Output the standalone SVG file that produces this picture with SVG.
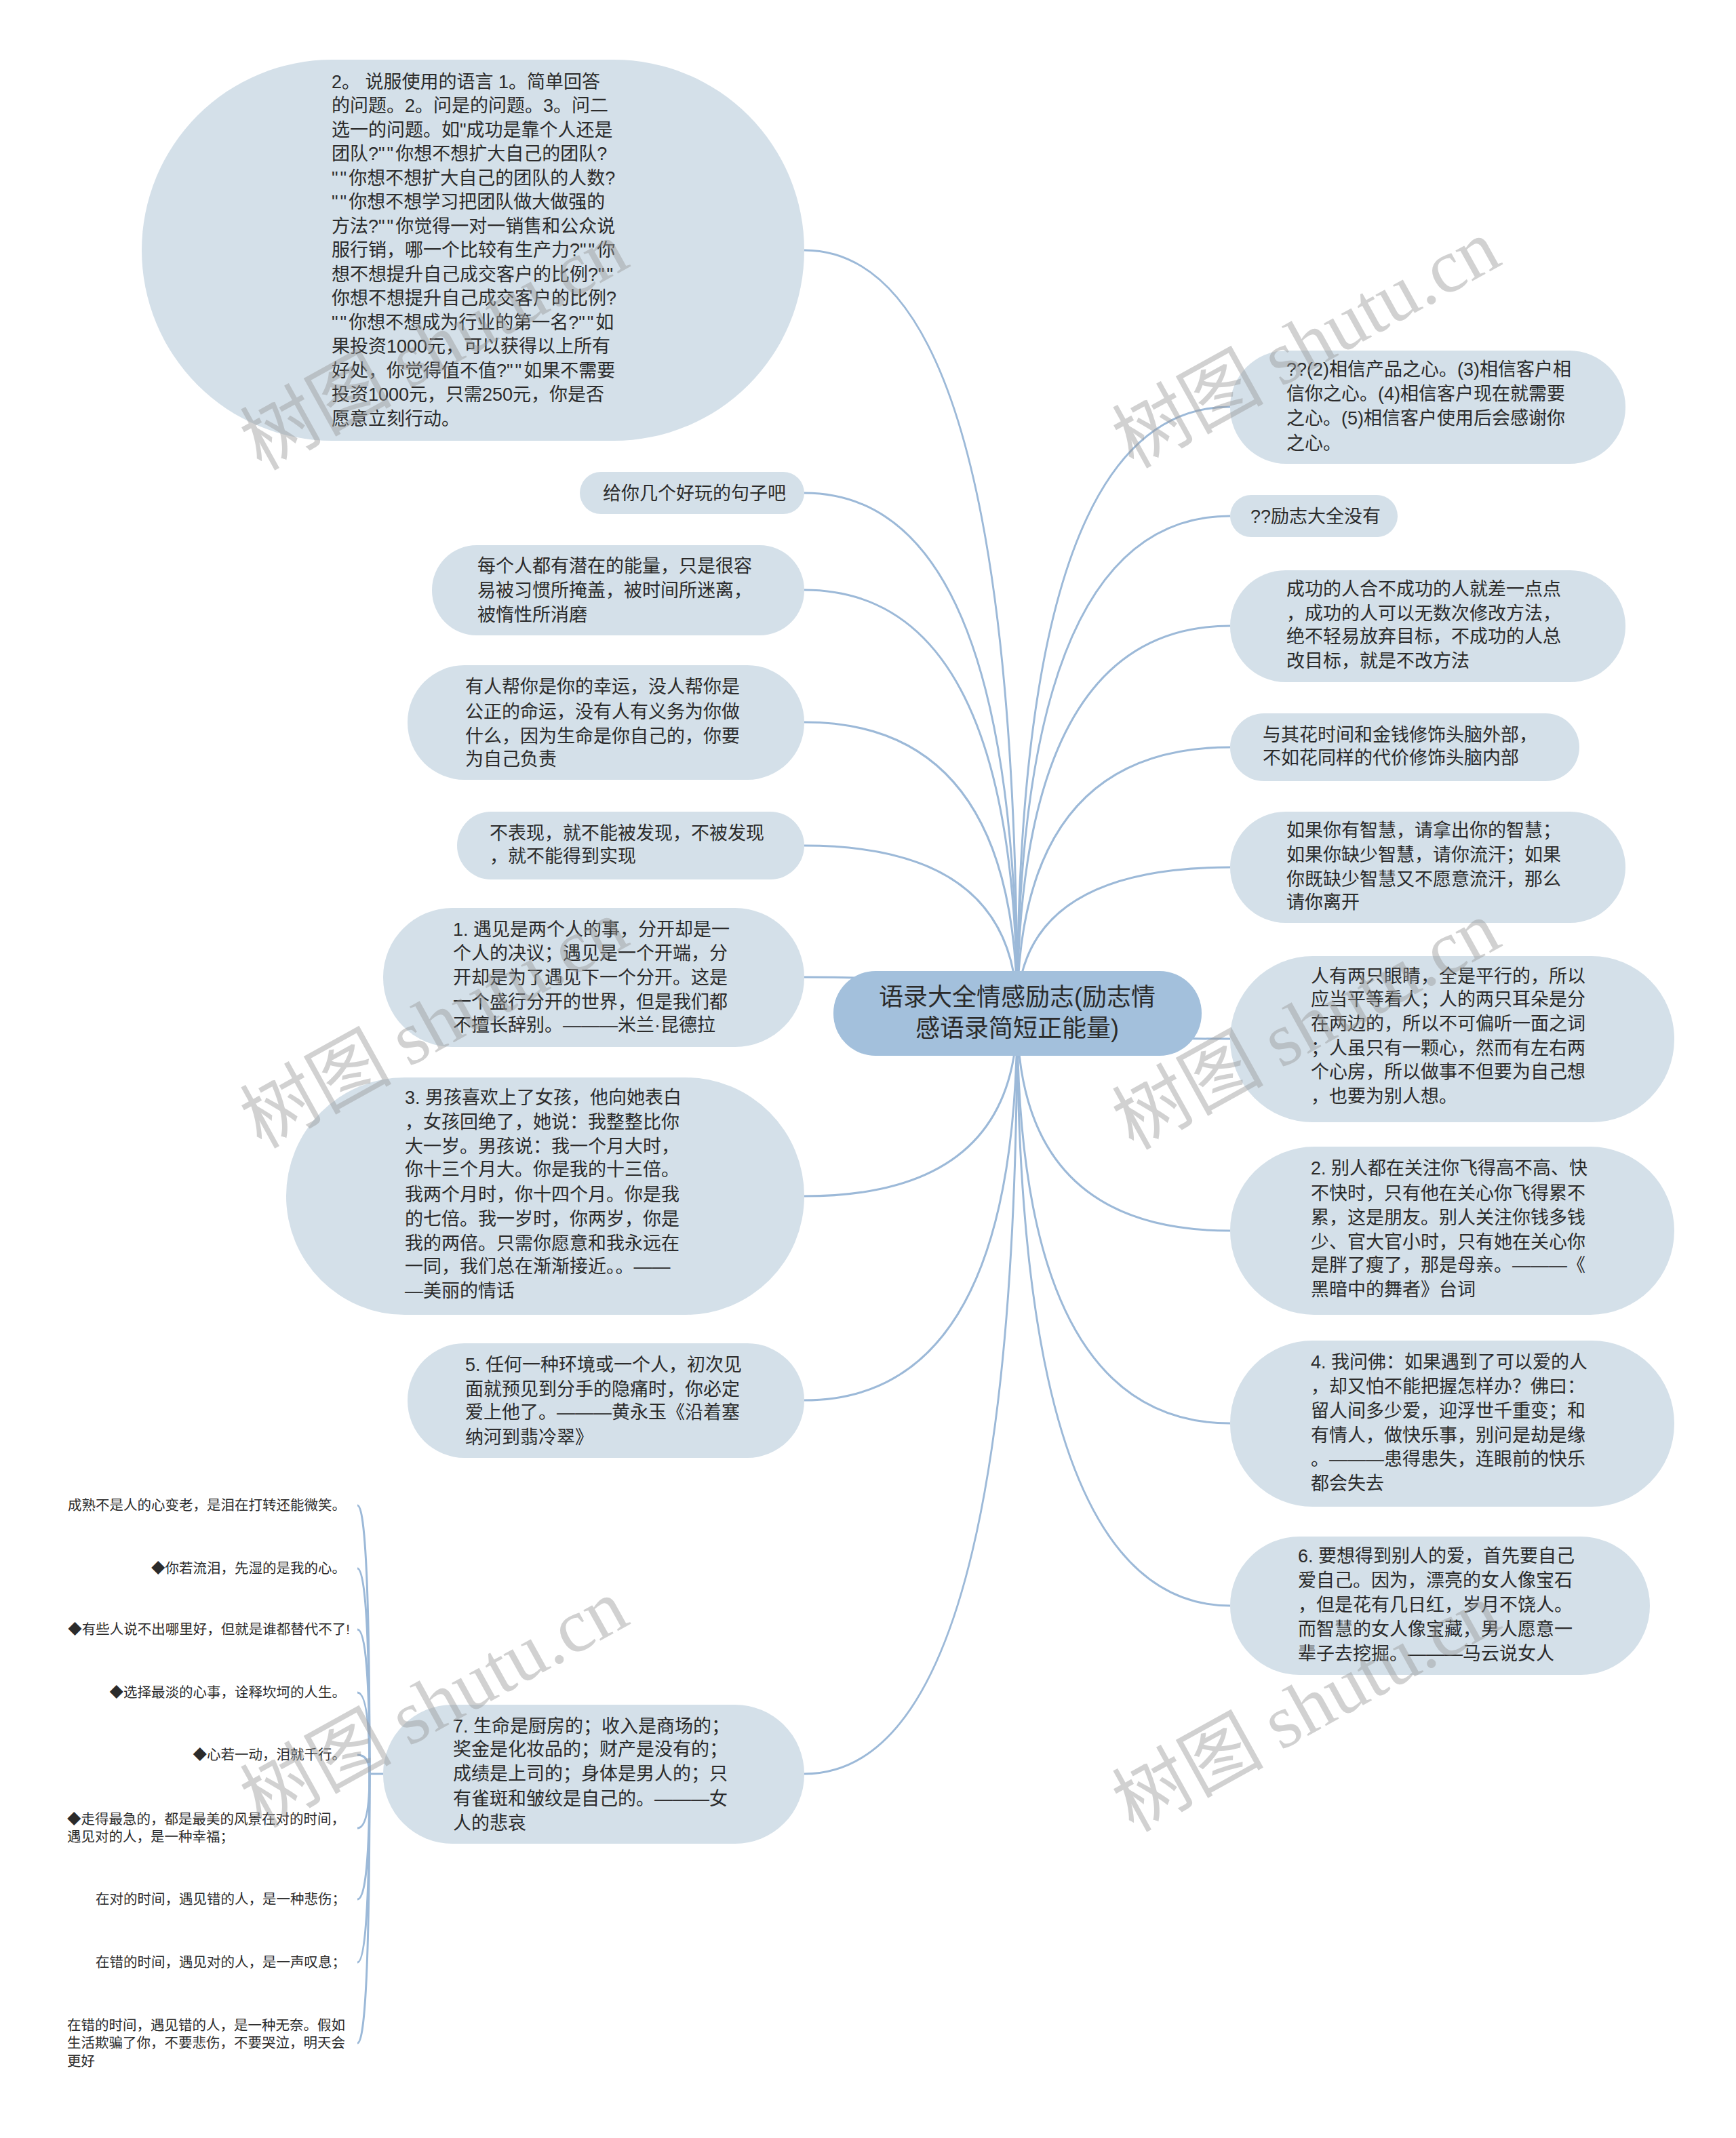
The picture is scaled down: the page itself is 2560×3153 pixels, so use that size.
<svg xmlns="http://www.w3.org/2000/svg" width="2560" height="3153" viewBox="0 0 2560 3153">
<style>
.bg{fill:#d4e0e9}
.root{fill:#a3c0dc}
.t{font-family:"Liberation Sans","Noto Sans CJK SC",sans-serif;font-size:27px;fill:#2b2b2b}
.q{letter-spacing:3px}
.rt{font-family:"Liberation Sans","Noto Sans CJK SC",sans-serif;font-size:36px;fill:#2b2b2b;text-anchor:middle}
.lf{font-family:"Liberation Sans","Noto Sans CJK SC",sans-serif;font-size:20.5px;fill:#2b2b2b}
.e{text-anchor:end}
.c{fill:none;stroke:#9cb9d8;stroke-width:3}
.wm{font-size:112px;fill:#9a9a9a;opacity:0.45}
.wm1{font-family:"Noto Sans CJK SC",sans-serif}
.wm2{font-family:"Liberation Serif",serif}
</style>
<rect width="2560" height="3153" fill="#ffffff"/>
<g id="connectors">
<path class="c" d="M1500 1495 Q1500 600 1814 600"/>
<path class="c" d="M1500 1495 Q1500 761 1814 761"/>
<path class="c" d="M1500 1495 Q1500 923 1814 923"/>
<path class="c" d="M1500 1495 Q1500 1102 1814 1102"/>
<path class="c" d="M1500 1495 Q1500 1279 1814 1279"/>
<path class="c" d="M1500 1495 Q1500 1532 1814 1532"/>
<path class="c" d="M1500 1495 Q1500 1815 1814 1815"/>
<path class="c" d="M1500 1495 Q1500 2099 1814 2099"/>
<path class="c" d="M1500 1495 Q1500 2368 1814 2368"/>
<path class="c" d="M1500 1495 Q1500 369 1186 369"/>
<path class="c" d="M1500 1495 Q1500 727 1186 727"/>
<path class="c" d="M1500 1495 Q1500 870 1186 870"/>
<path class="c" d="M1500 1495 Q1500 1065 1186 1065"/>
<path class="c" d="M1500 1495 Q1500 1247 1186 1247"/>
<path class="c" d="M1500 1495 Q1500 1441 1186 1441"/>
<path class="c" d="M1500 1495 Q1500 1764 1186 1764"/>
<path class="c" d="M1500 1495 Q1500 2065 1186 2065"/>
<path class="c" d="M1500 1495 Q1500 2616 1186 2616"/>
<path class="c" d="M565 2616 L545 2616"/>
<path class="c" d="M545 2616 Q545 2220 527 2220"/>
<path class="c" d="M545 2616 Q545 2313 527 2313"/>
<path class="c" d="M545 2616 Q545 2403 527 2403"/>
<path class="c" d="M545 2616 Q545 2496 527 2496"/>
<path class="c" d="M545 2616 Q545 2588 527 2588"/>
<path class="c" d="M545 2616 Q545 2696 527 2696"/>
<path class="c" d="M545 2616 Q545 2801 527 2801"/>
<path class="c" d="M545 2616 Q545 2894 527 2894"/>
<path class="c" d="M545 2616 Q545 3013 527 3013"/>
</g>
<g id="root">
<rect class="root" x="1229" y="1432" width="543" height="125" rx="62"/>
<text class="rt" x="1500" y="1483">语录大全情感励志(励志情</text>
<text class="rt" x="1500" y="1529">感语录简短正能量)</text>
</g>
<g id="r1"><rect class="bg" x="1814" y="517" width="583" height="167" rx="83"/>
<text class="t" x="1897" y="554">??(2)相信产品之心。(3)相信客户相</text>
<text class="t" x="1897" y="590">信你之心。(4)相信客户现在就需要</text>
<text class="t" x="1897" y="626">之心。(5)相信客户使用后会感谢你</text>
<text class="t" x="1897" y="663">之心。</text></g>
<g id="r2"><rect class="bg" x="1814" y="730" width="247" height="62" rx="31"/>
<text class="t" x="1844" y="771">??励志大全没有</text></g>
<g id="r3"><rect class="bg" x="1814" y="841" width="583" height="165" rx="82"/>
<text class="t" x="1897" y="878">成功的人合不成功的人就差一点点</text>
<text class="t" x="1897" y="914">，成功的人可以无数次修改方法，</text>
<text class="t" x="1897" y="948">绝不轻易放弃目标，不成功的人总</text>
<text class="t" x="1897" y="984">改目标，就是不改方法</text></g>
<g id="r4"><rect class="bg" x="1814" y="1052" width="515" height="100" rx="50"/>
<text class="t" x="1862" y="1093">与其花时间和金钱修饰头脑外部，</text>
<text class="t" x="1862" y="1127">不如花同样的代价修饰头脑内部</text></g>
<g id="r5"><rect class="bg" x="1814" y="1197" width="583" height="164" rx="82"/>
<text class="t" x="1897" y="1234">如果你有智慧，请拿出你的智慧；</text>
<text class="t" x="1897" y="1270">如果你缺少智慧，请你流汗；如果</text>
<text class="t" x="1897" y="1306">你既缺少智慧又不愿意流汗，那么</text>
<text class="t" x="1897" y="1340">请你离开</text></g>
<g id="r6"><rect class="bg" x="1814" y="1410" width="655" height="245" rx="122"/>
<text class="t" x="1933" y="1449">人有两只眼睛，全是平行的，所以</text>
<text class="t" x="1933" y="1483">应当平等看人；人的两只耳朵是分</text>
<text class="t" x="1933" y="1519">在两边的，所以不可偏听一面之词</text>
<text class="t" x="1933" y="1555">；人虽只有一颗心，然而有左右两</text>
<text class="t" x="1933" y="1590">个心房，所以做事不但要为自己想</text>
<text class="t" x="1933" y="1626">，也要为别人想。</text></g>
<g id="r7"><rect class="bg" x="1814" y="1691" width="655" height="248" rx="124"/>
<text class="t" x="1933" y="1732">2. 别人都在关注你飞得高不高、快</text>
<text class="t" x="1933" y="1769">不快时，只有他在关心你飞得累不</text>
<text class="t" x="1933" y="1805">累，这是朋友。别人关注你钱多钱</text>
<text class="t" x="1933" y="1841">少、官大官小时，只有她在关心你</text>
<text class="t" x="1933" y="1875">是胖了瘦了，那是母亲。———《</text>
<text class="t" x="1933" y="1911">黑暗中的舞者》台词</text></g>
<g id="r8"><rect class="bg" x="1814" y="1977" width="655" height="245" rx="122"/>
<text class="t" x="1933" y="2018">4. 我问佛：如果遇到了可以爱的人</text>
<text class="t" x="1933" y="2054">，却又怕不能把握怎样办？佛曰：</text>
<text class="t" x="1933" y="2090">留人间多少爱，迎浮世千重变；和</text>
<text class="t" x="1933" y="2126">有情人，做快乐事，别问是劫是缘</text>
<text class="t" x="1933" y="2161">。———患得患失，连眼前的快乐</text>
<text class="t" x="1933" y="2197">都会失去</text></g>
<g id="r9"><rect class="bg" x="1814" y="2266" width="619" height="204" rx="102"/>
<text class="t" x="1914" y="2304">6. 要想得到别人的爱，首先要自己</text>
<text class="t" x="1914" y="2340">爱自己。因为，漂亮的女人像宝石</text>
<text class="t" x="1914" y="2376">，但是花有几日红，岁月不饶人。</text>
<text class="t" x="1914" y="2412">而智慧的女人像宝藏，男人愿意一</text>
<text class="t" x="1914" y="2448">辈子去挖掘。———马云说女人</text></g>
<g id="l1"><rect class="bg" x="209" y="88" width="977" height="562" rx="281"/>
<text class="t" x="489" y="130">2。 说服使用的语言 1。简单回答</text>
<text class="t" x="489" y="165">的问题。2。问是的问题。3。问二</text>
<text class="t" x="489" y="201">选一的问题。如"成功是靠个人还是</text>
<text class="t" x="489" y="236">团队?<tspan class="q">""</tspan>你想不想扩大自己的团队?</text>
<text class="t" x="489" y="272"><tspan class="q">""</tspan>你想不想扩大自己的团队的人数?</text>
<text class="t" x="489" y="307"><tspan class="q">""</tspan>你想不想学习把团队做大做强的</text>
<text class="t" x="489" y="343">方法?<tspan class="q">""</tspan>你觉得一对一销售和公众说</text>
<text class="t" x="489" y="378">服行销，哪一个比较有生产力?<tspan class="q">""</tspan>你</text>
<text class="t" x="489" y="414">想不想提升自己成交客户的比例?<tspan class="q">""</tspan></text>
<text class="t" x="489" y="449">你想不想提升自己成交客户的比例?</text>
<text class="t" x="489" y="485"><tspan class="q">""</tspan>你想不想成为行业的第一名?<tspan class="q">""</tspan>如</text>
<text class="t" x="489" y="520">果投资1000元，可以获得以上所有</text>
<text class="t" x="489" y="556">好处，你觉得值不值?<tspan class="q">""</tspan>如果不需要</text>
<text class="t" x="489" y="591">投资1000元，只需250元，你是否</text>
<text class="t" x="489" y="627">愿意立刻行动。</text></g>
<g id="l2"><rect class="bg" x="855" y="696" width="331" height="62" rx="31"/>
<text class="t" x="889" y="737">给你几个好玩的句子吧</text></g>
<g id="l3"><rect class="bg" x="637" y="804" width="549" height="133" rx="66"/>
<text class="t" x="704" y="844">每个人都有潜在的能量，只是很容</text>
<text class="t" x="704" y="880">易被习惯所掩盖，被时间所迷离，</text>
<text class="t" x="704" y="916">被惰性所消磨</text></g>
<g id="l4"><rect class="bg" x="601" y="981" width="585" height="169" rx="84"/>
<text class="t" x="686" y="1022">有人帮你是你的幸运，没人帮你是</text>
<text class="t" x="686" y="1059">公正的命运，没有人有义务为你做</text>
<text class="t" x="686" y="1095">什么，因为生命是你自己的，你要</text>
<text class="t" x="686" y="1129">为自己负责</text></g>
<g id="l5"><rect class="bg" x="674" y="1197" width="512" height="100" rx="50"/>
<text class="t" x="722" y="1238">不表现，就不能被发现，不被发现</text>
<text class="t" x="722" y="1272">，就不能得到实现</text></g>
<g id="l6"><rect class="bg" x="565" y="1339" width="621" height="205" rx="102"/>
<text class="t" x="668" y="1380">1. 遇见是两个人的事，分开却是一</text>
<text class="t" x="668" y="1415">个人的决议；遇见是一个开端，分</text>
<text class="t" x="668" y="1451">开却是为了遇见下一个分开。这是</text>
<text class="t" x="668" y="1487">一个盛行分开的世界，但是我们都</text>
<text class="t" x="668" y="1521">不擅长辞别。———米兰·昆德拉</text></g>
<g id="l7"><rect class="bg" x="422" y="1589" width="764" height="350" rx="175"/>
<text class="t" x="597" y="1628">3. 男孩喜欢上了女孩，他向她表白</text>
<text class="t" x="597" y="1664">，女孩回绝了，她说：我整整比你</text>
<text class="t" x="597" y="1700">大一岁。男孩说：我一个月大时，</text>
<text class="t" x="597" y="1734">你十三个月大。你是我的十三倍。</text>
<text class="t" x="597" y="1771">我两个月时，你十四个月。你是我</text>
<text class="t" x="597" y="1807">的七倍。我一岁时，你两岁，你是</text>
<text class="t" x="597" y="1843">我的两倍。只需你愿意和我永远在</text>
<text class="t" x="597" y="1877">一同，我们总在渐渐接近。。——</text>
<text class="t" x="597" y="1913">—美丽的情话</text></g>
<g id="l8"><rect class="bg" x="601" y="1981" width="585" height="169" rx="84"/>
<text class="t" x="686" y="2022">5. 任何一种环境或一个人，初次见</text>
<text class="t" x="686" y="2058">面就预见到分手的隐痛时，你必定</text>
<text class="t" x="686" y="2092">爱上他了。———黄永玉《沿着塞</text>
<text class="t" x="686" y="2129">纳河到翡冷翠》</text></g>
<g id="l9"><rect class="bg" x="565" y="2514" width="621" height="205" rx="102"/>
<text class="t" x="668" y="2555">7. 生命是厨房的；收入是商场的；</text>
<text class="t" x="668" y="2589">奖金是化妆品的；财产是没有的；</text>
<text class="t" x="668" y="2625">成绩是上司的；身体是男人的；只</text>
<text class="t" x="668" y="2662">有雀斑和皱纹是自己的。———女</text>
<text class="t" x="668" y="2698">人的悲哀</text></g>
<g id="leaf1"><text class="lf e" x="510" y="2227">成熟不是人的心变老，是泪在打转还能微笑。</text></g>
<g id="leaf2"><text class="lf e" x="510" y="2320">◆你若流泪，先湿的是我的心。</text></g>
<g id="leaf3"><text class="lf e" x="516" y="2410">◆有些人说不出哪里好，但就是谁都替代不了!</text></g>
<g id="leaf4"><text class="lf e" x="510" y="2503">◆选择最淡的心事，诠释坎坷的人生。</text></g>
<g id="leaf5"><text class="lf e" x="510" y="2595">◆心若一动，泪就千行。</text></g>
<g id="leaf6"><text class="lf" x="99" y="2690">◆走得最急的，都是最美的风景在对的时间，</text>
<text class="lf" x="99" y="2716">遇见对的人，是一种幸福；</text></g>
<g id="leaf7"><text class="lf e" x="510" y="2808">在对的时间，遇见错的人，是一种悲伤；</text></g>
<g id="leaf8"><text class="lf e" x="510" y="2901">在错的时间，遇见对的人，是一声叹息；</text></g>
<g id="leaf9"><text class="lf" x="99" y="2994">在错的时间，遇见错的人，是一种无奈。假如</text>
<text class="lf" x="99" y="3020">生活欺骗了你，不要悲伤，不要哭泣，明天会</text>
<text class="lf" x="99" y="3047">更好</text></g>
<g id="watermarks">
<text class="wm" transform="translate(640 510) rotate(-29)" text-anchor="middle" y="38"><tspan class="wm1">树图 </tspan><tspan class="wm2">shutu.cn</tspan></text>
<text class="wm" transform="translate(1926 507) rotate(-29)" text-anchor="middle" y="38"><tspan class="wm1">树图 </tspan><tspan class="wm2">shutu.cn</tspan></text>
<text class="wm" transform="translate(640 1510) rotate(-29)" text-anchor="middle" y="38"><tspan class="wm1">树图 </tspan><tspan class="wm2">shutu.cn</tspan></text>
<text class="wm" transform="translate(1926 1512) rotate(-29)" text-anchor="middle" y="38"><tspan class="wm1">树图 </tspan><tspan class="wm2">shutu.cn</tspan></text>
<text class="wm" transform="translate(640 2512) rotate(-29)" text-anchor="middle" y="38"><tspan class="wm1">树图 </tspan><tspan class="wm2">shutu.cn</tspan></text>
<text class="wm" transform="translate(1926 2518) rotate(-29)" text-anchor="middle" y="38"><tspan class="wm1">树图 </tspan><tspan class="wm2">shutu.cn</tspan></text>
</g>
</svg>
